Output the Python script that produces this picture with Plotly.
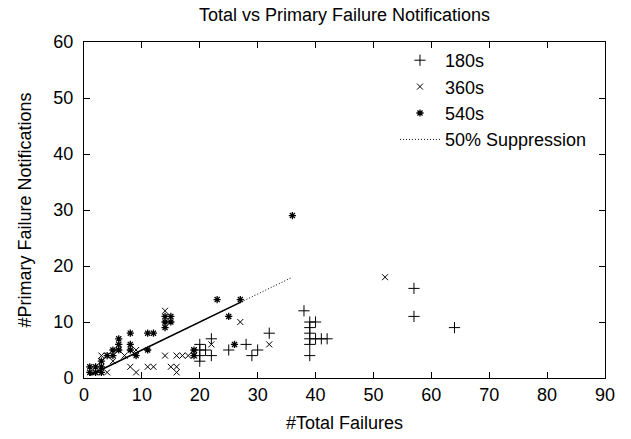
import plotly.graph_objects as go

# 180s series
s180_x = [20, 20, 20, 20, 21, 22, 22, 25, 28, 29, 30, 32, 38, 39, 39, 39, 39, 39, 39, 40, 40, 41, 42, 57, 57, 64]
s180_y = [6, 5, 4, 3, 5, 7, 4, 5, 6, 4, 5, 8, 12, 10, 9, 8, 7, 6, 4, 10, 7, 7, 7, 16, 11, 9]

# 360s series
s360_x = [52, 27, 32, 22, 14, 19, 14, 16, 17, 18, 19, 11, 15, 16, 16, 9, 8, 4, 3, 4, 3, 5, 2, 9, 7, 6, 12]
s360_y = [18, 10, 6, 6, 12, 5, 4, 4, 4, 4, 4, 2, 2, 2, 1, 1, 2, 1, 4, 4, 3, 3, 1, 5, 4, 5, 2]

# 540s series
s540_x = [36, 27, 23, 25, 26, 14, 15, 15, 14, 11, 12, 8, 8, 8, 9, 6, 6, 6, 5, 5, 4, 3, 3, 2, 2, 1, 1, 3, 11, 19, 19, 14]
s540_y = [29, 14, 14, 11, 6, 11, 11, 10, 9, 8, 8, 8, 6, 5, 4, 7, 6, 5, 5, 4, 4, 3, 2, 2, 1, 1, 2, 1, 5, 5, 4, 10]

# 50% suppression reference line
supp_x = [1, 27, 36]
supp_y = [0.5, 13.5, 18]
dense_x = [1, 27]
dense_y = [0.5, 13.5]

x_ticks = [0, 10, 20, 30, 40, 50, 60, 70, 80, 90]
y_ticks = [0, 10, 20, 30, 40, 50, 60]

FONT = "Liberation Sans, Arial, Helvetica, sans-serif"
FS = 18

fig = go.Figure()
fig.add_trace(go.Scatter(x=dense_x, y=dense_y, mode="lines", showlegend=False,
                         line=dict(color="black", width=1.6), hoverinfo="skip"))
fig.add_trace(go.Scatter(x=s180_x, y=s180_y, mode="markers", name="180s",
                         marker=dict(symbol="cross-thin", size=8, color="black",
                                     line=dict(color="black", width=1))))
fig.add_trace(go.Scatter(x=s360_x, y=s360_y, mode="markers", name="360s",
                         marker=dict(symbol="x-thin", size=6, color="black",
                                     line=dict(color="black", width=1))))
fig.add_trace(go.Scatter(x=s540_x, y=s540_y, mode="markers", name="540s",
                         marker=dict(symbol="asterisk", size=6, color="black",
                                     line=dict(color="black", width=1.3))))
fig.add_trace(go.Scatter(x=supp_x, y=supp_y, mode="lines", name="50% Suppression",
                         line=dict(color="black", width=1, dash="1px,2px")))

fig.update_layout(
    width=631, height=439,
    margin=dict(l=84, r=26, t=42, b=61, autoexpand=False),
    paper_bgcolor="white", plot_bgcolor="white",
    font=dict(family=FONT, size=FS, color="black"),
    title=dict(text="Total vs Primary Failure Notifications", x=0.5, xref="paper",
               xanchor="center",
               y=1 - 15 / 439, yref="container", yanchor="middle",
               font=dict(family=FONT, size=FS, color="black")),
    legend=dict(x=0.975, xanchor="right", y=1.0, yanchor="top",
                bgcolor="rgba(0,0,0,0)", borderwidth=0,
                font=dict(family=FONT, size=FS), tracegroupgap=0,
                itemwidth=40),
    showlegend=True,
)
fig.update_xaxes(range=[0, 90], tickvals=x_ticks, ticks="inside", ticklen=6,
                 tickcolor="black", showline=True, linecolor="black", linewidth=1,
                 mirror="ticks", showgrid=False, zeroline=False, automargin=False,
                 title=dict(text="#Total Failures", standoff=12,
                            font=dict(family=FONT, size=FS)),
                 tickfont=dict(family=FONT, size=FS))
fig.update_yaxes(range=[0, 60], tickvals=y_ticks, ticks="inside", ticklen=6,
                 tickcolor="black", showline=True, linecolor="black", linewidth=1,
                 mirror="ticks", showgrid=False, zeroline=False, automargin=False,
                 ticklabelstandoff=6,
                 title=dict(text="#Primary Failure Notifications", standoff=17,
                            font=dict(family=FONT, size=FS)),
                 tickfont=dict(family=FONT, size=FS))

fig.write_html("out.html", config={"displayModeBar": False},
               post_script="document.body.style.margin='0';document.body.style.padding='0';")
